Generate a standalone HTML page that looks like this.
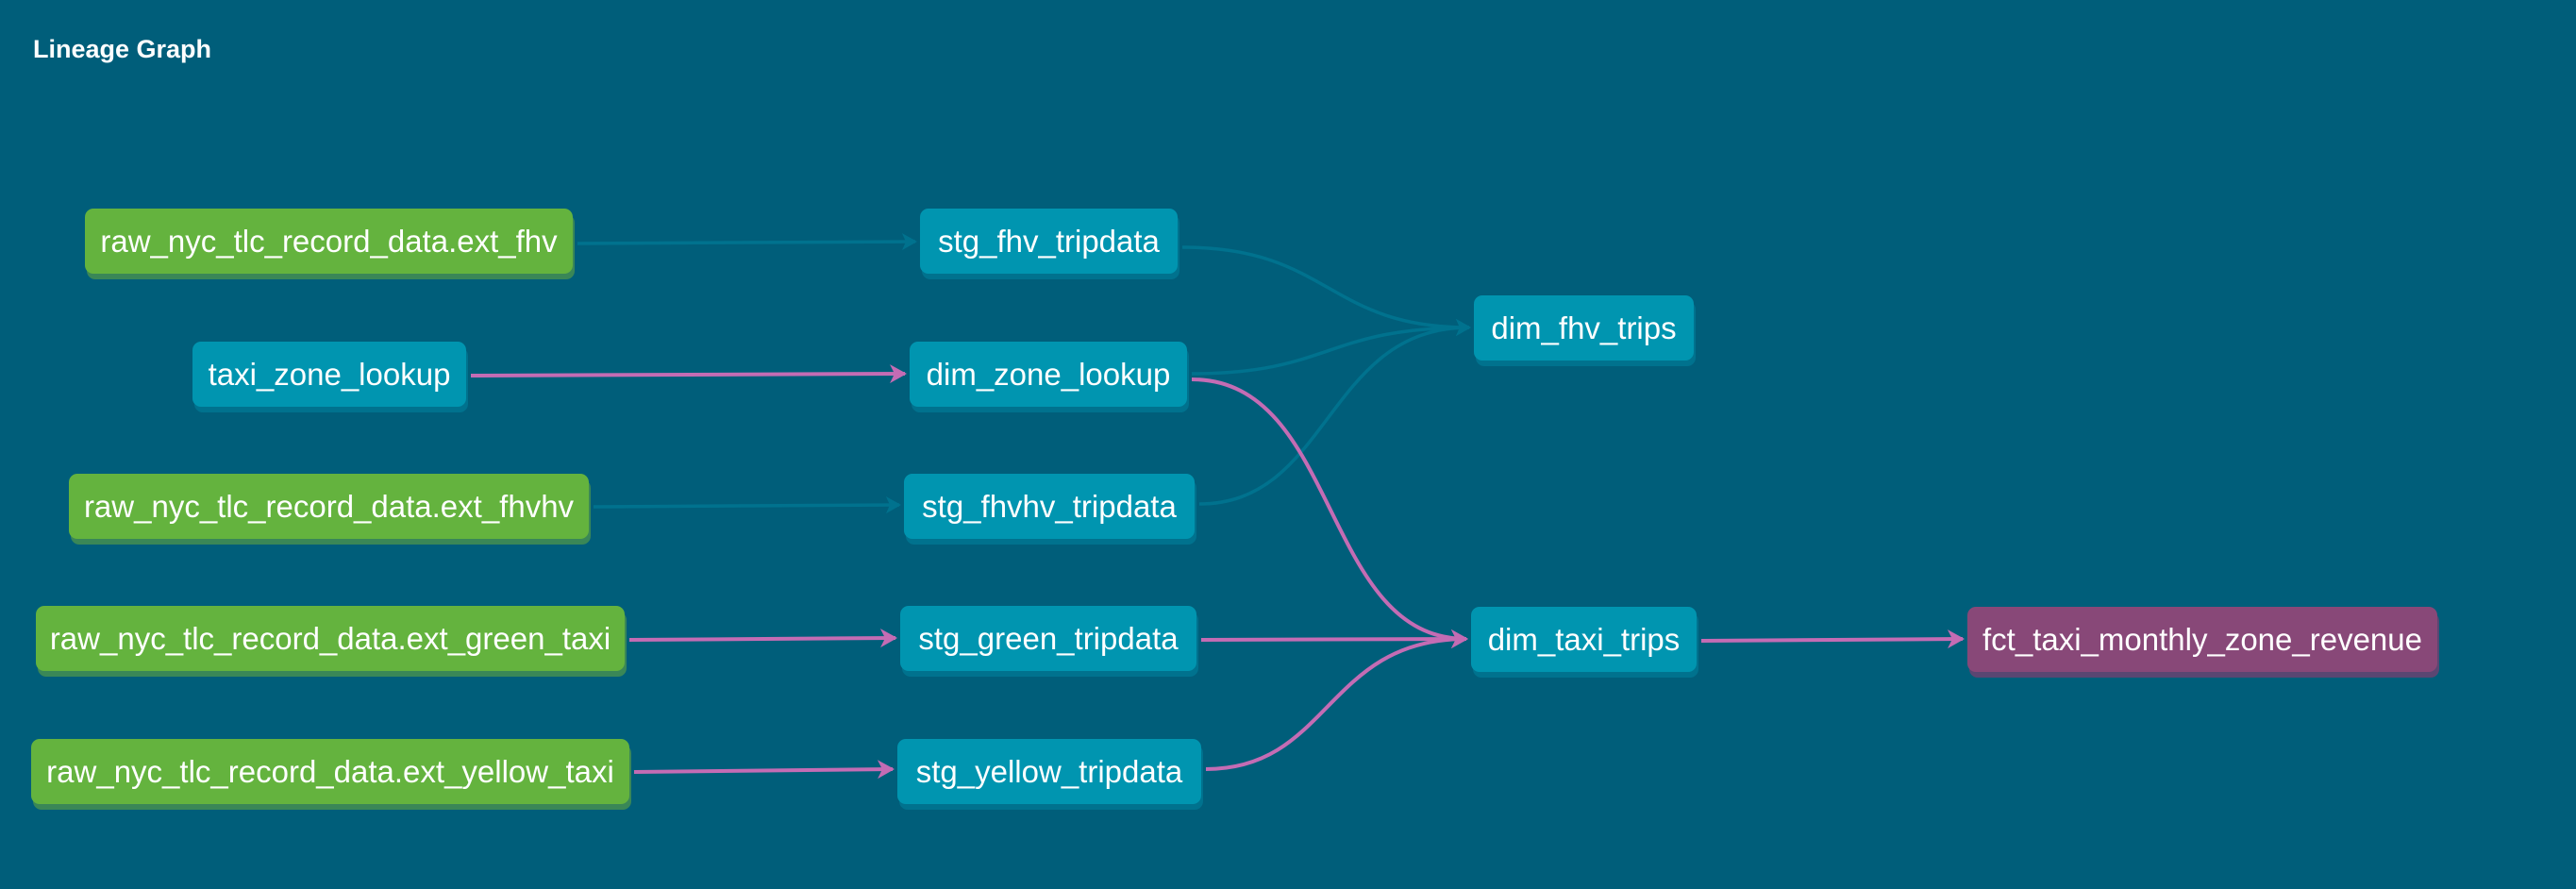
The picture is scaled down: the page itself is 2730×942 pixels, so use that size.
<!DOCTYPE html>
<html><head><meta charset="utf-8"><style>
html,body{margin:0;padding:0}
body{width:2730px;height:942px;background:#005e7a;position:relative;overflow:hidden;font-family:"Liberation Sans",sans-serif}
.t{position:absolute;left:35px;top:37px;color:#fff;font-weight:bold;font-size:27px}
.n{position:absolute;height:69px;line-height:69px;border-radius:9px;color:#fff;font-size:33px;text-align:center;white-space:nowrap;box-sizing:border-box}
.g{background:#64b33e;box-shadow:2px 6px 0 #3a8757}
.b{background:#0095b0;box-shadow:2px 6px 0 #00728e}
.p{background:#884878;box-shadow:2px 6px 0 #5a4672}
svg{position:absolute;left:0;top:0}
</style></head><body>
<div class="t">Lineage Graph</div>
<svg width="2730" height="942">
<defs>
<marker id="ad" markerWidth="16" markerHeight="18" refX="14" refY="9" orient="auto" markerUnits="userSpaceOnUse"><path d="M0,0 L16,9 L0,18 L4,9 Z" fill="#00728e"/></marker>
<marker id="ap" markerWidth="18" markerHeight="20" refX="16" refY="10" orient="auto" markerUnits="userSpaceOnUse"><path d="M0,0 L18,10 L0,20 L5,10 Z" fill="#c46cb4"/></marker>
</defs>
<g fill="none" stroke="#00728e" stroke-width="3.5" marker-end="url(#ad)">
<path d="M612,258 L970,256"/>
<path d="M629,537 L953,535"/>
<path d="M1253,262 C1410,262 1405,347 1557,347"/>
<path d="M1263,396 C1410,396 1405,347 1557,347"/>
<path d="M1271,534 C1410,534 1405,347 1557,347"/>
</g>
<g fill="none" stroke="#c46cb4" stroke-width="4" marker-end="url(#ap)">
<path d="M499,398 L959,396"/>
<path d="M667,678 L949,676"/>
<path d="M672,818 L946,815"/>
<path d="M1263,402 C1420,402 1400,677 1554,677"/>
<path d="M1273,678 L1554,677"/>
<path d="M1278,815 C1410,815 1405,677 1554,677"/>
<path d="M1803,679 L2080,677"/>
</g>
</svg>
<div class="n g" style="left:90px;top:221px;width:517px">raw_nyc_tlc_record_data.ext_fhv</div>
<div class="n b" style="left:975px;top:221px;width:273px">stg_fhv_tripdata</div>
<div class="n b" style="left:204px;top:362px;width:290px">taxi_zone_lookup</div>
<div class="n b" style="left:964px;top:362px;width:294px">dim_zone_lookup</div>
<div class="n g" style="left:73px;top:502px;width:551px">raw_nyc_tlc_record_data.ext_fhvhv</div>
<div class="n b" style="left:958px;top:502px;width:308px">stg_fhvhv_tripdata</div>
<div class="n g" style="left:38px;top:642px;width:624px">raw_nyc_tlc_record_data.ext_green_taxi</div>
<div class="n b" style="left:954px;top:642px;width:314px">stg_green_tripdata</div>
<div class="n g" style="left:33px;top:783px;width:634px">raw_nyc_tlc_record_data.ext_yellow_taxi</div>
<div class="n b" style="left:951px;top:783px;width:322px">stg_yellow_tripdata</div>
<div class="n b" style="left:1562px;top:313px;width:233px">dim_fhv_trips</div>
<div class="n b" style="left:1559px;top:643px;width:239px">dim_taxi_trips</div>
<div class="n p" style="left:2085px;top:643px;width:498px">fct_taxi_monthly_zone_revenue</div>
</body></html>
